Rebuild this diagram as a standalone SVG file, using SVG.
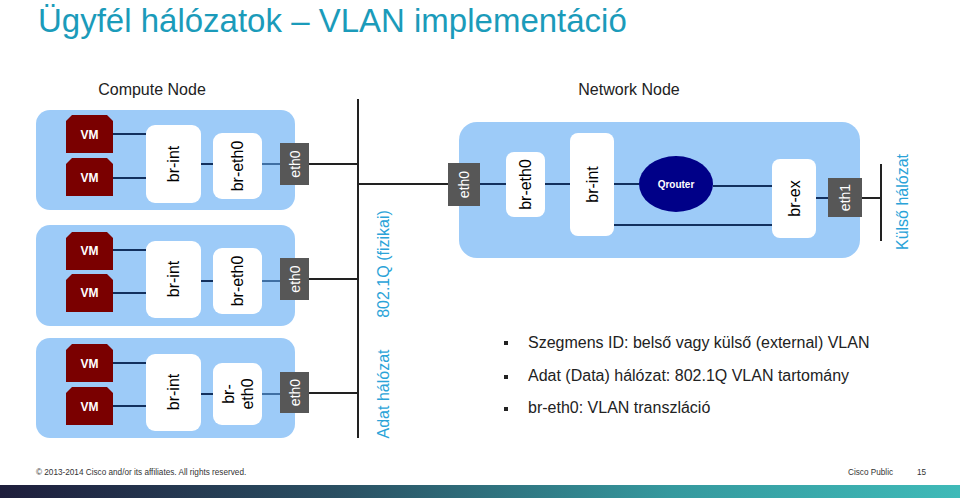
<svg xmlns="http://www.w3.org/2000/svg" width="960" height="500" viewBox="0 0 960 500">
<defs>
<linearGradient id="bar" x1="0" y1="0" x2="1" y2="0">
<stop offset="0" stop-color="#1E1E3C"/>
<stop offset="0.35" stop-color="#2A4F62"/>
<stop offset="0.7" stop-color="#35999E"/>
<stop offset="1" stop-color="#3FBAB8"/>
</linearGradient>
<path id="vm" d="M0,6 L6,0 L41,0 L47,6 L47,38 L0,38 Z"/>
</defs>
<style>
text{font-family:"Liberation Sans",Arial,sans-serif}
.panel{fill:#9DCBF8}
.vm{fill:#7A0000}
.vmt{fill:#fff;font-size:12px;font-weight:bold;text-anchor:middle;dominant-baseline:central}
.br{fill:#fff}
.brt{fill:#000;font-size:16px;text-anchor:middle;dominant-baseline:central}
.eth{fill:#575757}
.etht{fill:#fff;font-size:14px;text-anchor:middle;dominant-baseline:central}
.dk{stroke:#12305E;stroke-width:2;fill:none}
.lt{stroke:#3F6FA3;stroke-width:2;fill:none}
.bk{stroke:#222;stroke-width:2;fill:none}
.blue{fill:#2AA3D8;font-size:16px;text-anchor:middle;dominant-baseline:central}
.bul{fill:#222;font-size:16px}
.foot{fill:#333;font-size:8.2px}
.hdr{fill:#222;font-size:16px;text-anchor:middle}
</style>
<rect width="960" height="500" fill="#fff"/>
<text x="38" y="32" font-size="33" fill="#1B9BBA">Ügyfél hálózatok – VLAN implementáció</text>
<text class="hdr" x="152" y="95">Compute Node</text>
<text class="hdr" x="629" y="95">Network Node</text>

<g id="compute1">
<rect class="panel" x="36" y="110" width="259" height="100" rx="14"/>
<use href="#vm" class="vm" x="66" y="115"/><text class="vmt" x="89.5" y="135">VM</text>
<use href="#vm" class="vm" x="66" y="158"/><text class="vmt" x="89.5" y="178">VM</text>
<rect class="br" x="146" y="125" width="55" height="78" rx="9"/>
<text class="brt" font-size="17" transform="translate(173.5,164) rotate(-90)">br-int</text>
<rect class="br" x="213" y="133" width="49" height="66" rx="9"/>
<text class="brt" transform="translate(237.5,166) rotate(-90)">br-eth0</text>
<rect class="eth" x="280" y="143" width="29" height="42"/>
<text class="etht" transform="translate(294.5,164) rotate(-90)">eth0</text>
</g>
<g id="compute2">
<rect class="panel" x="36" y="225" width="259" height="101" rx="14"/>
<use href="#vm" class="vm" x="66" y="232"/><text class="vmt" x="89.5" y="251">VM</text>
<use href="#vm" class="vm" x="66" y="274"/><text class="vmt" x="89.5" y="293">VM</text>
<rect class="br" x="146" y="241" width="55" height="77" rx="9"/>
<text class="brt" font-size="17" transform="translate(173.5,279) rotate(-90)">br-int</text>
<rect class="br" x="213" y="248" width="49" height="66" rx="9"/>
<text class="brt" transform="translate(237.5,281) rotate(-90)">br-eth0</text>
<rect class="eth" x="280" y="258" width="29" height="42"/>
<text class="etht" transform="translate(294.5,279) rotate(-90)">eth0</text>
</g>
<g id="compute3">
<rect class="panel" x="36" y="338" width="259" height="100" rx="14"/>
<use href="#vm" class="vm" x="66" y="344"/><text class="vmt" x="89.5" y="364">VM</text>
<use href="#vm" class="vm" x="66" y="387"/><text class="vmt" x="89.5" y="407">VM</text>
<rect class="br" x="146" y="354" width="55" height="77" rx="9"/>
<text class="brt" font-size="17" transform="translate(173.5,392) rotate(-90)">br-int</text>
<rect class="br" x="213" y="363" width="49" height="62" rx="9"/>
<text class="brt" transform="translate(228,394) rotate(-90)">br-</text>
<text class="brt" transform="translate(247,394) rotate(-90)">eth0</text>
<rect class="eth" x="280" y="372" width="29" height="41"/>
<text class="etht" transform="translate(294.5,392.5) rotate(-90)">eth0</text>
</g>

<g id="network">
<rect class="panel" x="459" y="122" width="401" height="136" rx="18"/>
<rect class="br" x="506" y="152" width="39" height="65" rx="8"/>
<text class="brt" transform="translate(525.5,184.5) rotate(-90)">br-eth0</text>
<rect class="br" x="570" y="133" width="44" height="103" rx="8"/>
<text class="brt" font-size="17" transform="translate(592,184.5) rotate(-90)">br-int</text>
<rect class="br" x="772" y="159" width="44" height="79" rx="8"/>
<text class="brt" font-size="17" transform="translate(794,198.5) rotate(-90)">br-ex</text>
</g>
<g id="qrouter">
<ellipse cx="676" cy="184" rx="37" ry="28" fill="#000088"/>
<text x="676" y="184" fill="#fff" font-size="10" font-weight="bold" text-anchor="middle" dominant-baseline="central">Qrouter</text>
</g>
<g id="net-eth0">
<rect class="eth" x="448" y="163" width="32" height="43"/>
<text class="etht" transform="translate(464,184.5) rotate(-90)">eth0</text>
</g>
<g id="net-eth1">
<rect class="eth" x="828" y="178" width="34" height="39"/>
<text class="etht" transform="translate(845,197.5) rotate(-90)">eth1</text>
</g>

<g id="connectors">
<path class="dk" d="M113,134 H146 M113,178 H146 M201,164 H213"/>
<path class="lt" d="M262,164 H280"/>
<path class="dk" d="M113,250 H146 M113,293 H146 M201,281 H213"/>
<path class="lt" d="M262,281 H280"/>
<path class="dk" d="M113,363 H146 M113,406 H146 M201,394 H213"/>
<path class="lt" d="M262,394 H280"/>
<path class="bk" d="M309,164 H358 M309,279 H358 M309,393 H358"/>
<path class="bk" d="M358,99 V438"/>
<path class="bk" d="M358,184 H448"/>
<path class="dk" d="M480,184 H506 M545,184 H570 M614,184 H639 M713,186 H772 M614,225 H772 M816,198 H828"/>
<path class="bk" d="M862,198 H881 M881,164 V241"/>
</g>

<text class="blue" transform="translate(383,264) rotate(-90)">802.1Q (fizikai)</text>
<text class="blue" transform="translate(383,394) rotate(-90)">Adat hálózat</text>
<text class="blue" font-size="17" transform="translate(902,202) rotate(-90)">Külső hálózat</text>

<g id="bullets">
<rect x="504" y="341" width="4" height="4" fill="#222"/>
<text class="bul" x="528" y="348">Szegmens ID: belső vagy külső (external) VLAN</text>
<rect x="504" y="375" width="4" height="4" fill="#222"/>
<text class="bul" x="528" y="381">Adat (Data) hálózat: 802.1Q VLAN tartomány</text>
<rect x="504" y="407" width="4" height="4" fill="#222"/>
<text class="bul" x="528" y="413">br-eth0: VLAN transzláció</text>
</g>

<text class="foot" x="36" y="475">© 2013-2014  Cisco and/or its affiliates. All rights reserved.</text>
<text class="foot" x="848" y="475">Cisco Public</text>
<text class="foot" x="917" y="475">15</text>
<rect x="0" y="485" width="960" height="13" fill="url(#bar)"/>
</svg>
